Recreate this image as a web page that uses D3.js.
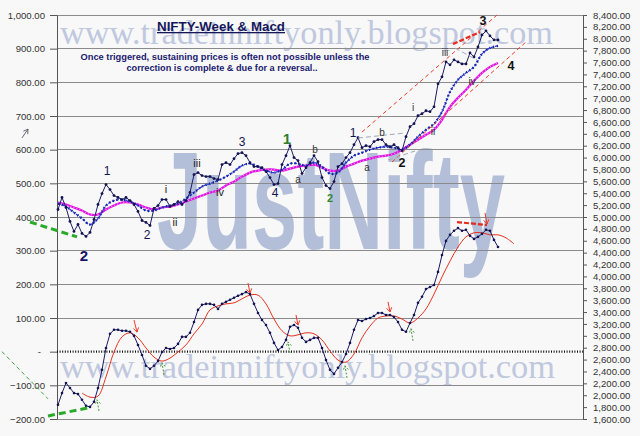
<!DOCTYPE html>
<html><head><meta charset="utf-8">
<script src="https://cdn.jsdelivr.net/npm/d3@7"></script>
<style>body{margin:0;background:#f8f8f8;} svg{display:block;font-family:"Liberation Sans",Arial,sans-serif;}</style>
</head><body><svg id="c" width="640" height="436"></svg>
<script>
// ---------- DATA ----------
const weeks = d3.range(0, 111);          // weekly index for price & MACD
const maWeeks = d3.range(0, 111, 2);     // sampling of the moving averages
const signalWeeks = d3.range(6, 115, 2); // signal line (displaced)

const price = [5126,5328,5160,4925,4757,4874,4723,4673,4740,4958,
5210,5395,5546,5462,5361,5328,5294,5328,5277,5210,
5093,4941,4908,4857,5143,5193,5294,5294,5177,5210,
5260,5210,5277,5412,5714,5747,5697,5680,5680,5647,
5630,5882,5915,5882,5982,6066,6083,6033,5915,5848,
5848,5831,5764,5663,5546,5563,5882,6033,6201,6000,
5949,5731,5831,5915,6033,5932,5663,5529,5479,5596,
5848,5898,6000,6083,6217,6335,6167,6201,6184,6268,
6302,6302,6217,6184,6217,6167,6117,6352,6520,6570,
6704,6738,6788,6772,6855,7242,7359,7611,7561,7645,
7611,7577,7577,7762,7695,7863,8064,8132,8048,7980,
7980];

const maFast = [5227,5176,5076,4975,4874,4975,5193,5277,5294,5260,
5193,5109,5109,5160,5193,5227,5311,5412,5512,5563,
5613,5680,5764,5865,5898,5848,5781,5747,5798,5898,
5898,5865,5915,5848,5731,5747,5915,6033,6083,6134,
6167,6184,6167,6134,6217,6352,6469,6570,6772,7107,
7309,7426,7527,7745,7846,7880];

const maSlow = [5244,5210,5160,5109,5042,5042,5126,5193,5244,5244,
5210,5160,5126,5160,5176,5210,5260,5311,5361,5412,
5445,5529,5596,5680,5747,5781,5798,5798,5781,5814,
5848,5865,5882,5831,5781,5781,5848,5898,5949,5982,
6016,6033,6066,6134,6217,6301,6385,6469,6637,6855,
7007,7141,7292,7426,7527,7594];

const macd = [-158,-123,-93,-108,-123,-126,-143,-161,-164,-149,
-108,-54,11,53,65,65,62,62,59,47,
20,-10,-42,-51,-42,-28,-1,11,8,11,
23,44,44,56,88,124,139,142,142,139,
127,142,148,154,160,166,171,177,171,142,
115,94,79,56,26,5,14,35,74,79,
71,41,29,35,41,41,11,-25,-54,-66,
-48,-31,-7,26,65,94,91,97,100,106,
115,115,109,109,103,88,65,59,85,109,
145,163,186,192,198,237,287,329,347,359,
367,359,362,344,335,341,350,362,359,332,
311];

const signal = [-123,-135,-132,-75,-1,44,56,41,11,-16,
-28,-19,-1,20,53,82,124,136,142,145,
157,168,168,142,97,62,47,50,56,53,
35,2,-25,-31,-7,41,76,100,106,106,
97,85,100,127,171,222,269,311,341,353,
353,347,347,338,320];

const leftTicks = d3.range(-200, 1001, 100);
const rightTicks = d3.range(1600, 8401, 200);

// wave labels [text, week, price, kind]
const waveLabels = [
 ["2",6.5,4360,"big"],["1",12.25,5774,"num"],["i",27,5471,"rom"],["ii",29.25,4916,"rom"],
 ["2",22.25,4697,"num"],["iii",34.75,5909,"rom"],["iv",40.5,5421,"rom"],["3",46,6262,"num"],
 ["4",54.25,5404,"num"],["1",57.25,6329,"green"],["a",60,5639,"let"],["b",64.25,6144,"let"],
 ["2",68,5320,"green2"],["1",73.75,6414,"num"],["a",77.25,5841,"let"],["b",81,6430,"let"],
 ["2",86,5909,"numb"],["i",88.75,6851,"let"],["ii",93.75,6447,"let"],["iii",96.75,7777,"let"],
 ["iv",103.5,7289,"let"],["3",106.25,8299,"numb"],["4",113.25,7541,"numb"]
];
// trend lines on price [w0,p0,w1,p1,style]
const priceTrends = [
 [76,6430,109.75,8400,"red"],[83.5,5925,117.25,7962,"red"],[98.75,7911,105.5,8113,"redThick"],
 [75,6329,86.75,6414,"gray"],[82.5,5959,89.25,6111,"gray"],[99.25,7844,104.75,7642,"gray"]
];
// lines on MACD scale [w0,v0,w1,v1,style]
const macdTrends = [
 [99.75,385,107.25,376,"redThick"],[-7,385,4.75,341,"greenThick"],
 [-2.5,-191,7.5,-167,"greenThick"],[-14,0,-2.5,-140,"greenThin"]
];
const redArrows = [[19,94,19.75,58],[47.5,204,48,174],[59.5,109,60,79],[82.5,148,83,118],[106.75,412,107.25,379]];
const greenArrows = [[10.25,-176,9.75,-143],[26.5,-69,26,-33],[58,-4,57.5,29],[72.25,-78,71.75,-42],[88.75,32,88.25,68]];
const sideArrow = [-9,635,-7.5,661];

// ---------- CHART ----------
const svg = d3.select("#c");
svg.append("rect").attr("width",640).attr("height",436).attr("fill","#f8f8f8");
const plotL = 57, plotR = 583;
const x = d3.scaleLinear().domain([0,110]).range([58,498]);
const yL = d3.scaleLinear().domain([-200,1000]).range([419,15]);
const yR = d3.scaleLinear().domain([1600,8400]).range([419,15]);

// watermarks
const wmc = "#bfc8de";
svg.append("text").attr("x",60).attr("y",44).attr("fill",wmc)
  .attr("font-family","'Liberation Serif','DejaVu Serif',serif").attr("font-size",34)
  .attr("textLength",493).attr("lengthAdjust","spacingAndGlyphs").text("www.tradeinniftyonly.blogspot.com");
svg.append("text").attr("x",60).attr("y",378).attr("fill",wmc)
  .attr("font-family","'Liberation Serif','DejaVu Serif',serif").attr("font-size",34)
  .attr("textLength",495).attr("lengthAdjust","spacingAndGlyphs").text("www.tradeinniftyonly.blogspot.com");
svg.append("text").attr("x",157).attr("y",249).attr("fill","#b3bed9")
  .attr("font-weight","bold").attr("font-size",140)
  .attr("textLength",348).attr("lengthAdjust","spacingAndGlyphs").text("JustNifty");

// grid
svg.append("g").selectAll("line").data(leftTicks.filter(d=>d!==0)).join("line")
  .attr("x1",plotL).attr("x2",plotR).attr("y1",d=>yL(d)).attr("y2",d=>yL(d))
  .attr("stroke","#8a8a8a").attr("stroke-width",1).attr("shape-rendering","crispEdges");

// axes
const fmt = d3.format(",.2f");
const gL = svg.append("g").attr("transform",`translate(${plotL},0)`)
  .call(d3.axisLeft(yL).tickValues(leftTicks).tickSize(7).tickSizeOuter(0).tickPadding(5)
  .tickFormat(d=> d===0 ? "-" : fmt(d)));
const gR = svg.append("g").attr("transform",`translate(${plotR},0)`)
  .call(d3.axisRight(yR).tickValues(rightTicks).tickSize(4).tickSizeOuter(0).tickPadding(6).tickFormat(fmt));
[gL,gR].forEach(g=>{
  g.selectAll("path,line").attr("stroke","#555");
  g.selectAll("text").attr("fill","#333").attr("font-size",9.6).attr("font-family","'Liberation Sans',Arial,sans-serif");
});
gL.selectAll(".tick").filter(d=>d===0).select("text").attr("dx",-4);

// zero line
svg.append("line").attr("x1",plotL).attr("x2",plotR).attr("y1",yL(0)).attr("y2",yL(0))
  .attr("stroke","#111").attr("stroke-width",2.2).attr("stroke-dasharray","1,1.6");

// price panel
const lineMA = d3.line().curve(d3.curveCatmullRom).x((d,i)=>x(maWeeks[i])).y(d=>yR(d));
svg.append("path").attr("d",lineMA(maSlow)).attr("fill","none").attr("stroke","#e010e0").attr("stroke-width",2.2);
svg.append("path").attr("d",lineMA(maSlow)).attr("fill","none").attr("stroke","#ff8cff").attr("stroke-width",1.1).attr("stroke-dasharray","1.2,2");
svg.append("path").attr("d",lineMA(maFast)).attr("fill","none").attr("stroke","#2a3ad8").attr("stroke-width",1.3).attr("stroke-dasharray","3,1.2");
svg.append("path").attr("d",lineMA(maFast)).attr("fill","none").attr("stroke","#1520a0").attr("stroke-width",2.4).attr("stroke-dasharray","1.2,2.6");

const lineP = d3.line().x((d,i)=>x(weeks[i])).y(d=>yR(d));
svg.append("path").attr("d",lineP(price)).attr("fill","none").attr("stroke","#1b1b66").attr("stroke-width",1);
svg.append("g").selectAll("circle").data(price).join("circle")
  .attr("cx",(d,i)=>x(weeks[i])).attr("cy",d=>yR(d)).attr("r",1.4).attr("fill","#141450");

// macd panel
const lineS = d3.line().curve(d3.curveCatmullRom).x((d,i)=>x(signalWeeks[i])).y(d=>yL(d));
svg.append("path").attr("d",lineS(signal)).attr("fill","none").attr("stroke","#e8321e").attr("stroke-width",1);
const lineM = d3.line().x((d,i)=>x(weeks[i])).y(d=>yL(d));
svg.append("path").attr("d",lineM(macd)).attr("fill","none").attr("stroke","#1b1b66").attr("stroke-width",1);
svg.append("g").selectAll("circle").data(macd).join("circle")
  .attr("cx",(d,i)=>x(weeks[i])).attr("cy",d=>yL(d)).attr("r",1.3).attr("fill","#141450");

// trend lines
const tStyle = {
  red:{c:"#f03a2a",w:1,da:"4,3"}, redThick:{c:"#e8281a",w:2.2,da:"5,2"},
  gray:{c:"#a0a8b8",w:1,da:"5,3"}, greenThick:{c:"#2aaa2a",w:3,da:"7,4"},
  greenThin:{c:"#3aa03a",w:1,da:"4,3"}
};
priceTrends.forEach(t=>{const s=tStyle[t[4]];
  svg.append("line").attr("x1",x(t[0])).attr("y1",yR(t[1])).attr("x2",x(t[2])).attr("y2",yR(t[3]))
   .attr("stroke",s.c).attr("stroke-width",s.w).attr("stroke-dasharray",s.da);});
macdTrends.forEach(t=>{const s=tStyle[t[4]];
  svg.append("line").attr("x1",x(t[0])).attr("y1",yL(t[1])).attr("x2",x(t[2])).attr("y2",yL(t[3]))
   .attr("stroke",s.c).attr("stroke-width",s.w).attr("stroke-dasharray",s.da);});

function arrow(x1,y1,x2,y2,color,dash,w){
  const a=Math.atan2(y2-y1,x2-x1), L=5, s=0.55;
  const p=`M${x1},${y1}L${x2},${y2}M${x2-L*Math.cos(a-s)},${y2-L*Math.sin(a-s)}L${x2},${y2}L${x2-L*Math.cos(a+s)},${y2-L*Math.sin(a+s)}`;
  svg.append("path").attr("d",p).attr("fill","none").attr("stroke",color).attr("stroke-width",w||1).attr("stroke-dasharray",dash||null);
}
redArrows.forEach(a=>arrow(x(a[0]),yL(a[1]),x(a[2]),yL(a[3]),"#f03a2a"));
greenArrows.forEach(a=>arrow(x(a[0]),yL(a[1]),x(a[2]),yL(a[3]),"#4a9a3a","2,1.5"));
arrow(x(sideArrow[0]),yL(sideArrow[1]),x(sideArrow[2]),yL(sideArrow[3]),"#556","",0.9);

// wave labels
const lStyle = {
  big:{c:"#141464",s:15,w:"bold"}, num:{c:"#141450",s:12,w:"normal"}, rom:{c:"#222",s:11,w:"normal"},
  green:{c:"#2f7d2f",s:15,w:"bold"}, green2:{c:"#2f8a2f",s:11,w:"bold"}, let:{c:"#333",s:10,w:"normal"},
  numb:{c:"#111",s:12.5,w:"bold"}
};
svg.append("g").selectAll("text").data(waveLabels).join("text")
  .attr("x",d=>x(d[1])).attr("y",d=>yR(d[2])).attr("text-anchor","middle").attr("dominant-baseline","central")
  .attr("fill",d=>lStyle[d[3]].c).attr("font-size",d=>lStyle[d[3]].s).attr("font-weight",d=>lStyle[d[3]].w)
  .text(d=>d[0]);

// titles
svg.append("text").attr("x",221).attr("y",31).attr("text-anchor","middle").attr("font-size",13).attr("font-weight","bold")
  .attr("fill","#16165a").attr("text-decoration","underline").attr("textLength",128).attr("lengthAdjust","spacingAndGlyphs")
  .text("NIFTY-Week & Macd");
svg.append("text").attr("x",225).attr("y",60).attr("text-anchor","middle").attr("font-size",9).attr("font-weight","bold")
  .attr("fill","#1a1a6e").attr("textLength",289).attr("lengthAdjust","spacingAndGlyphs")
  .text("Once triggered, sustaining prices is often not possible unless the");
svg.append("text").attr("x",222).attr("y",71).attr("text-anchor","middle").attr("font-size",9).attr("font-weight","bold")
  .attr("fill","#1a1a6e").attr("textLength",191).attr("lengthAdjust","spacingAndGlyphs")
  .text("correction is complete & due for a reversal..");
</script></body></html>
